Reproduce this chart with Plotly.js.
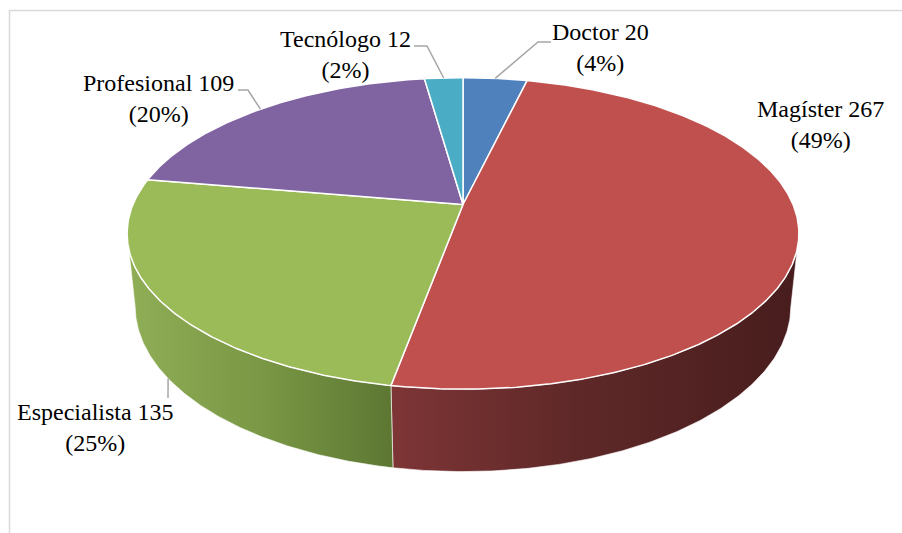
<!DOCTYPE html>
<html>
<head>
<meta charset="utf-8">
<script src="https://cdn.plot.ly/plotly-3.0.1.min.js"></script>
<style>html,body{margin:0;padding:0;background:#fff;}#chart{width:902px;height:533px;}</style>
</head>
<body>
<div id="chart"></div>
<script>
// ---- data ----
const categories = ['Doctor', 'Magíster', 'Especialista', 'Profesional', 'Tecnólogo'];
const values = [20, 267, 135, 109, 12];

// ---- styles ----
const topColors = ['#4f81bd', '#c0504d', '#9bbb59', '#8064a2', '#4bacc6'];
const wallScales = [
  [[0, '#2c4a6e'], [1, '#1c3048']],
  [[0, '#7e3536'], [0.45, '#5f2828'], [1, '#481d1d']],
  [[0, '#90ae56'], [0.5, '#7a9845'], [1, '#5d7733']],
  [[0, '#4a3a60'], [1, '#302540']],
  [[0, '#2c6675'], [1, '#1c4450']]
];
const labelX = [600, 820, 95, 158, 345];
const labelY = [47, 124, 427, 98, 54];
const leaderPts = [[[551, 42], [538, 42]], null, [[168, 398]], [[238, 90], [248, 90]], [[414, 46], [427, 46]]];
const leaderEdge = ['top', null, 'bottom', 'top', 'top'];

// ---- 3D projection (layout geometry) ----
const cx = 463, cy = 204.5, D = 4.79, S = 1581, alpha = 27.1 * Math.PI / 180, H = 0.25;
const ca = Math.cos(alpha), sa = Math.sin(alpha);
function proj(phi, Y) {
  const X = Math.sin(phi), Z = Math.cos(phi);
  const yc = Y * ca + Z * sa;
  const dep = D + Z * ca - Y * sa;
  return [cx + S * X / dep, cy - S * yc / dep];
}
function arc(a, b, Y) {
  const n = Math.max(2, Math.ceil(Math.abs(b - a) / (0.5 * Math.PI / 180)));
  const pts = [];
  for (let i = 0; i <= n; i++) pts.push(proj(a + (b - a) * i / n, Y));
  return pts;
}

const total = values.reduce((s, v) => s + v, 0);
const starts = [], ends = [];
let acc = 0;
values.forEach(v => { starts.push(acc / total * 2 * Math.PI); acc += v; ends.push(acc / total * 2 * Math.PI); });

const silA = Math.acos(-ca / D), silB = 2 * Math.PI - silA;
const traces = [];

// walls
values.forEach((v, i) => {
  const a = Math.max(starts[i], silA), b = Math.min(ends[i], silB);
  if (b <= a) return;
  const topArc = arc(a, b, 0);
  const botArc = arc(a, b, -H).reverse();
  const pts = topArc.concat(botArc);
  pts.push(topArc[0]);
  traces.push({
    type: 'scatter', mode: 'lines', hoverinfo: 'skip', showlegend: false,
    x: pts.map(p => p[0]), y: pts.map(p => p[1]),
    fill: 'toself', fillgradient: {type: 'horizontal', colorscale: wallScales[i]},
    line: {color: 'rgba(255,255,255,0.6)', width: 1}
  });
});

// top faces
values.forEach((v, i) => {
  const pts = [[cx, cy]].concat(arc(starts[i], ends[i], 0));
  pts.push([cx, cy]);
  traces.push({
    type: 'scatter', mode: 'lines', hoverinfo: 'skip', showlegend: false,
    name: categories[i],
    x: pts.map(p => p[0]), y: pts.map(p => p[1]),
    fill: 'toself', fillcolor: topColors[i],
    line: {color: '#ffffff', width: 1.5}
  });
});

// labels and leaders
const annotations = [], shapes = [];
categories.forEach((c, i) => {
  const pct = Math.round(values[i] / total * 100);
  annotations.push({
    x: labelX[i], y: labelY[i], xref: 'x', yref: 'y',
    text: c + ' ' + values[i] + '<br>(' + pct + '%)',
    showarrow: false, xanchor: 'center', yanchor: 'middle', align: 'center',
    font: {family: 'Liberation Serif', size: 24, color: '#000000'}
  });
  if (leaderPts[i]) {
    const mid = (starts[i] + ends[i]) / 2;
    const end = proj(mid, leaderEdge[i] === 'top' ? 0 : -H);
    const pts = leaderPts[i].concat([end]);
    const path = pts.map((p, k) => (k ? 'L' : 'M') + p[0].toFixed(1) + ',' + p[1].toFixed(1)).join(' ');
    shapes.push({type: 'path', xref: 'x', yref: 'y', path: path, line: {color: '#a6a6a6', width: 1.5}});
  }
});
// chart frame
shapes.push({type: 'rect', xref: 'x', yref: 'y', x0: 9.5, x1: 910, y0: 10.5, y1: 545,
  line: {color: '#d9d9d9', width: 1.5}, fillcolor: 'rgba(0,0,0,0)', layer: 'below'});

const layout = {
  width: 902, height: 533,
  margin: {l: 0, r: 0, t: 0, b: 0},
  paper_bgcolor: '#ffffff', plot_bgcolor: '#ffffff',
  showlegend: false,
  font: {family: 'Liberation Serif'},
  xaxis: {range: [0, 902], visible: false, fixedrange: true},
  yaxis: {range: [533, 0], visible: false, fixedrange: true},
  annotations: annotations,
  shapes: shapes
};
Plotly.newPlot('chart', traces, layout, {displayModeBar: false, staticPlot: true});
</script>
</body>
</html>
